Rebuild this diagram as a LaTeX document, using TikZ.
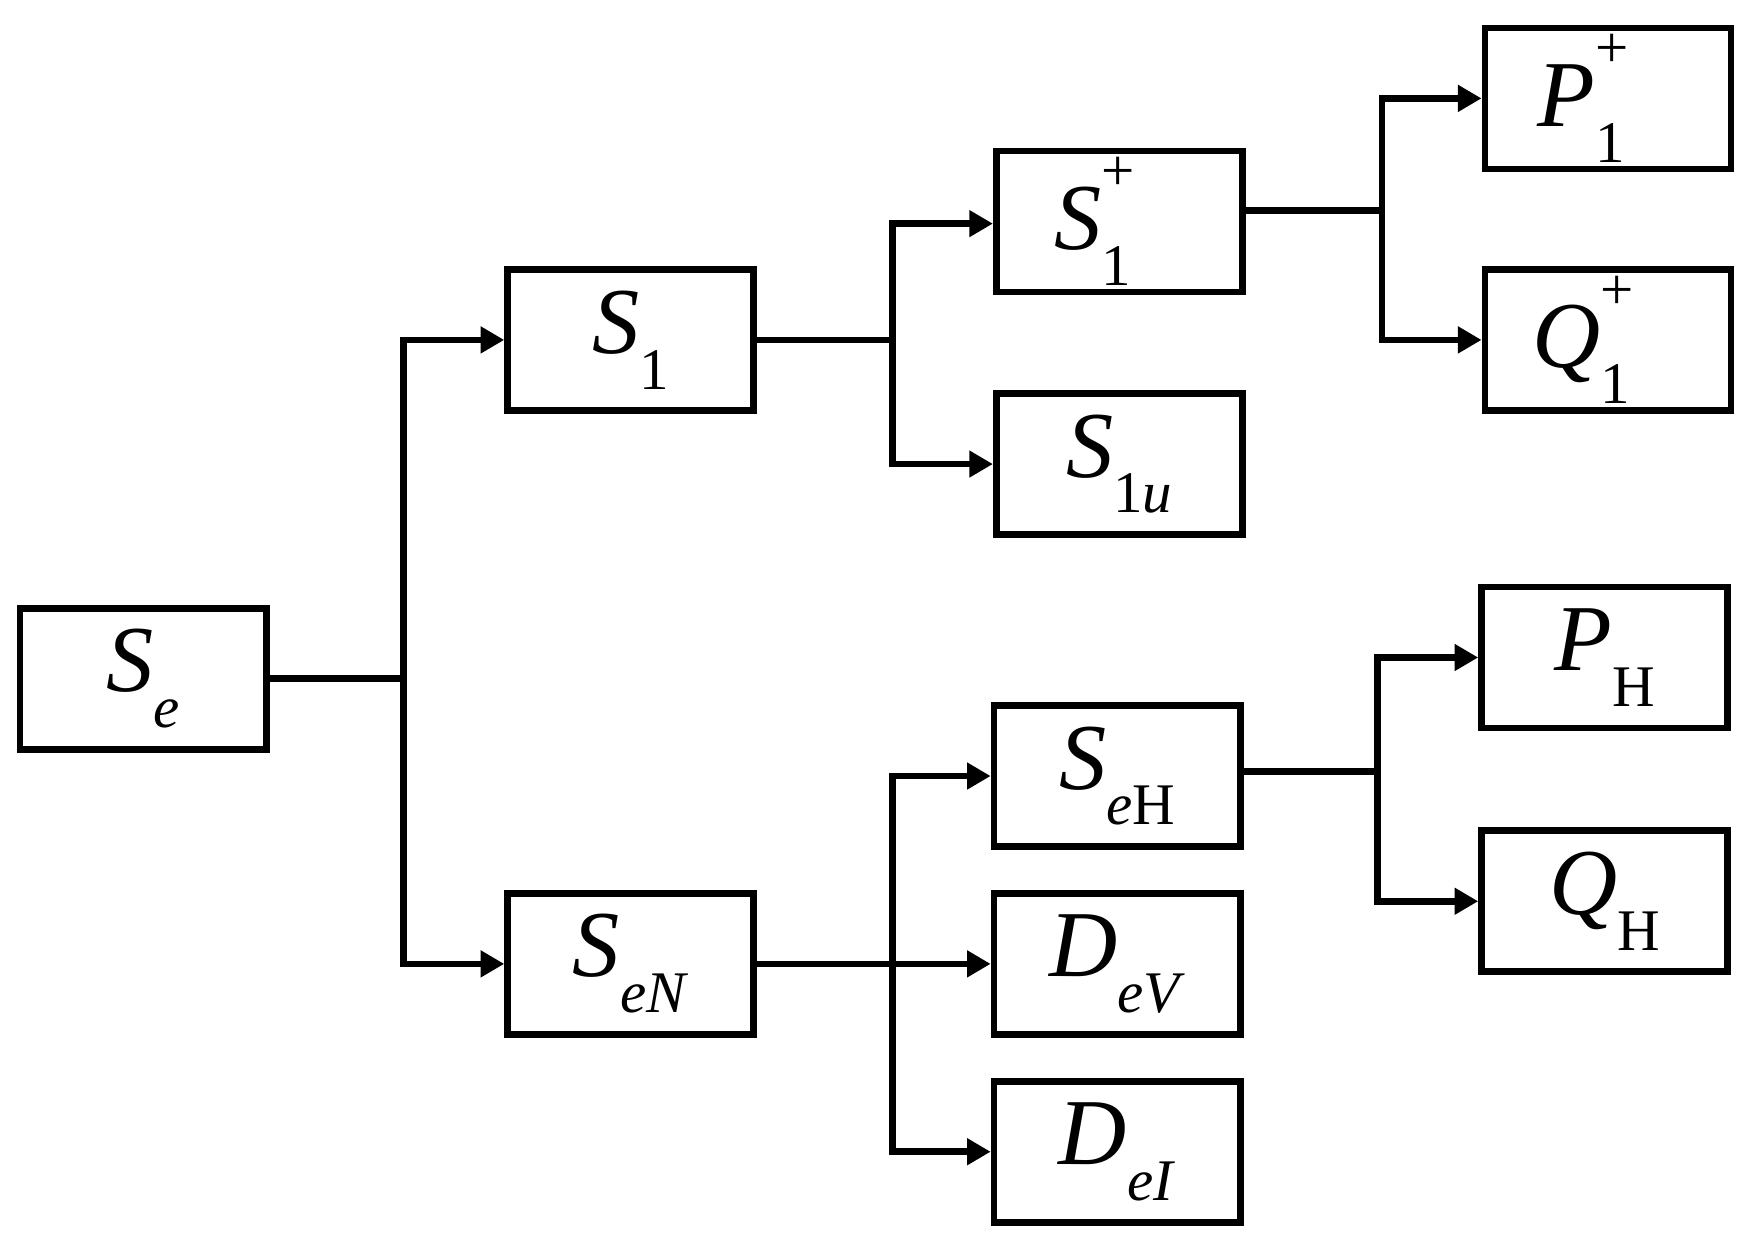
\documentclass[tikz,border=0pt]{standalone}
\usepackage{fontspec}
\setmainfont{Liberation Serif}
\usetikzlibrary{arrows.meta}
\newcommand\SupSub[2]{\rlap{\raisebox{0.62em}{\fontsize{15}{15}\selectfont #1}}\raisebox{-0.38em}{\fontsize{15}{15}\selectfont #2}}
\newcommand\Sb[1]{\raisebox{-0.38em}{\fontsize{15}{15}\selectfont #1}}
\begin{document}
\begin{tikzpicture}[x=0.01cm,y=-0.01cm,
  box/.style={draw,line width=1.7pt,minimum width=2.2cm,minimum height=1.26cm,inner sep=0pt,font=\fontsize{24}{28}\selectfont},
  ln/.style={line width=1.7pt},
  ar/.style={line width=1.7pt,-{Triangle[length=6pt,width=6.5pt]}}]
\useasboundingbox (0,0) rectangle (1565,1110);
\node[box] (Se) at (128,607) {\textit{S}\Sb{\textit{e}}};
\node[box] (S1) at (564,304) {\textit{S}\Sb{1}};
\node[box] (SeN) at (564,862) {\textit{S}\Sb{\textit{eN}}};
\node[box] (S1p) at (1001,198) {\textit{S}\SupSub{+}{1}\phantom{+}};
\node[box] (S1u) at (1001,415) {\textit{S}\Sb{1\textit{u}}};
\node[box] (SeH) at (999,694) {\textit{S}\Sb{\textit{e}H}};
\node[box] (DeV) at (999,862) {\textit{D}\Sb{\textit{eV}}};
\node[box] (DeI) at (999,1030) {\textit{D}\Sb{\textit{eI}}};
\node[box] (P1) at (1438,88) {\textit{P}\SupSub{+}{1}\phantom{+}};
\node[box] (Q1) at (1438,304) {\textit{Q}\SupSub{+}{1}\phantom{+}};
\node[box] (PH) at (1435,588) {\textit{P}\Sb{H}};
\node[box] (QH) at (1435,806) {\textit{Q}\Sb{H}};
\coordinate (j0) at (361,607);
\coordinate (j1) at (798,304);
\coordinate (j2) at (798,862);
\coordinate (j3) at (1236,188);
\coordinate (j4) at (1232,690);
\draw[ln] (Se.east) -- (j0);
\draw[ar] (j0) |- (S1.west);
\draw[ar] (j0) |- (SeN.west);
\draw[ln] (S1.east) -- (j1);
\draw[ar] (j1) |- ([yshift=-0.02cm]S1p.west);
\draw[ar] (j1) |- (S1u.west);
\draw[ln] (SeN.east) -- (j2);
\draw[ar] (j2) |- (SeH.west);
\draw[ar] (j2) -- (DeV.west);
\draw[ar] (j2) |- (DeI.west);
\draw[ln] (S1p.east |- j3) -- (j3);
\draw[ar] (j3) |- (P1.west);
\draw[ar] (j3) |- (Q1.west);
\draw[ln] (SeH.east |- j4) -- (j4);
\draw[ar] (j4) |- (PH.west);
\draw[ar] (j4) |- (QH.west);
\end{tikzpicture}
\end{document}
